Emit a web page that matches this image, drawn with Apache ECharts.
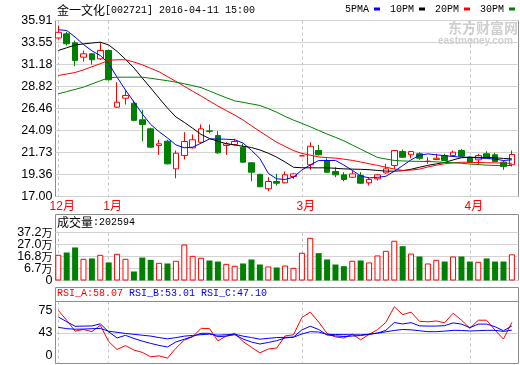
<!DOCTYPE html>
<html>
<head>
<meta charset="utf-8">
<title>金一文化 日K</title>
<script src="https://cdn.jsdelivr.net/npm/echarts@6/dist/echarts.min.js"></script>
<style>
  html, body { margin: 0; padding: 0; background: #fff; }
  #main { width: 520px; height: 365px; }
</style>
</head>
<body>
<div id="main"></div>
<script>
// month labels sit on these candle indexes
const monthIdx = [0, 6, 29, 49];
const monthNames = ['12月', '1月', '3月', '4月'];

const opens = [34.03, 34.48, 33.51, 31.97, 32.33, 31.79, 32.69, 26.60, 27.56, 27.02,
  25.24, 24.27, 22.48, 22.94, 19.97, 21.40, 22.23, 22.83, 24.05, 23.55,
  22.48, 22.58, 22.30, 20.62, 19.38, 17.83, 18.61, 18.47, 19.15, 21.37,
  20.41, 21.94, 20.87, 19.69, 19.33, 19.07, 19.26, 18.47, 18.90, 19.54,
  20.33, 21.83, 21.48, 21.59, 20.76, 20.98, 21.40, 21.40, 21.94, 21.22,
  20.94, 21.59, 21.48, 20.69, 20.41];
const closes = [34.64, 33.41, 31.61, 32.33, 31.69, 32.69, 29.54, 27.13, 27.85, 25.18,
  24.74, 22.30, 22.66, 20.51, 21.65, 22.91, 23.09, 24.27, 24.00, 21.69,
  22.66, 22.91, 20.69, 19.61, 18.05, 18.61, 18.43, 19.33, 19.43, 21.37,
  22.40, 21.48, 19.61, 19.33, 18.83, 19.43, 18.43, 18.83, 19.33, 19.97,
  21.94, 21.22, 21.83, 21.11, 20.80, 21.11, 20.87, 21.76, 21.33, 20.69,
  21.40, 21.22, 20.76, 20.23, 21.51];
const lows = [33.87, 33.22, 31.00, 31.50, 31.18, 31.69, 29.46, 26.53, 26.88, 25.09,
  22.94, 22.25, 21.48, 20.45, 18.96, 20.98, 22.15, 22.75, 23.80, 21.59,
  21.48, 22.48, 20.60, 18.64, 18.00, 17.57, 18.18, 18.40, 18.90, 21.37,
  19.87, 21.40, 19.55, 19.07, 18.64, 19.00, 18.36, 18.18, 18.72, 19.43,
  19.97, 21.15, 21.11, 20.95, 20.51, 20.90, 20.80, 21.30, 21.25, 20.60,
  20.41, 21.15, 20.70, 19.87, 20.22];
const highs = [35.37, 34.70, 33.76, 32.69, 32.40, 33.58, 32.80, 29.28, 28.39, 27.31,
  26.32, 24.38, 23.09, 23.09, 21.94, 23.91, 23.66, 24.74, 24.74, 24.02,
  22.83, 23.20, 22.66, 20.70, 19.45, 19.07, 19.43, 19.69, 19.50, 21.37,
  22.83, 22.55, 21.10, 20.15, 19.61, 19.79, 19.61, 19.07, 19.43, 20.51,
  21.94, 22.05, 21.90, 21.76, 21.22, 21.59, 21.59, 21.94, 22.12, 21.30,
  21.59, 21.87, 21.70, 20.87, 21.94];

const volumes = [199000, 217000, 256000, 168000, 171000, 199000, 140000, 207000, 168000, 70000,
  178000, 160000, 137000, 132000, 153000, 279000, 191000, 176000, 155000, 147000,
  129000, 114000, 132000, 163000, 124000, 109000, 101000, 116000, 98000, 215000,
  331000, 212000, 163000, 124000, 111000, 153000, 155000, 140000, 194000, 230000,
  308000, 266000, 209000, 186000, 132000, 160000, 147000, 186000, 186000, 147000,
  145000, 171000, 147000, 147000, 202594];

const ma5 = [34.91, 34.84, 34.13, 33.33, 32.65, 32.15, 31.29, 29.81, 28.44, 27.17,
  25.87, 24.74, 23.96, 23.29, 22.55, 22.23, 22.30, 22.73, 23.18, 23.18,
  23.15, 23.10, 22.74, 21.96, 21.08, 19.49, 18.90, 18.83, 19.08, 19.85,
  20.39, 20.87, 20.87, 20.87, 20.38, 19.81, 19.22, 18.99, 19.06, 19.17,
  19.71, 20.32, 20.94, 21.43, 21.58, 21.48, 21.39, 21.30, 21.22, 21.22,
  21.14, 21.08, 21.02, 20.87, 20.94];
const ma10 = [32.69, 32.98, 33.27, 33.40, 33.49, 33.58, 33.28, 32.59, 31.74, 30.82,
  29.73, 28.66, 27.57, 26.50, 25.55, 24.97, 24.33, 23.67, 23.23, 22.94,
  22.67, 22.53, 22.40, 22.26, 22.00, 21.65, 21.23, 20.71, 20.14, 20.09,
  20.08, 20.08, 20.08, 20.03, 19.97, 19.94, 19.92, 19.88, 19.80, 19.73,
  19.72, 19.77, 19.93, 20.14, 20.35, 20.50, 20.66, 20.93, 21.17, 21.20,
  21.21, 21.19, 21.15, 21.09, 21.04];
const ma20 = [30.00, 30.16, 30.32, 30.61, 30.94, 31.27, 31.63, 31.69, 31.69, 31.45,
  31.15, 30.77, 30.40, 29.88, 29.37, 28.84, 28.31, 27.79, 27.25, 26.72,
  26.23, 25.75, 25.21, 24.60, 23.99, 23.41, 22.83, 22.38, 21.93, 21.63,
  21.44, 21.25, 21.18, 21.12, 21.01, 20.88, 20.71, 20.52, 20.34, 20.15,
  19.95, 19.80, 19.84, 19.94, 20.17, 20.36, 20.52, 20.61, 20.68, 20.67,
  20.65, 20.63, 20.61, 20.59, 20.57];
const ma30 = [28.03, 28.27, 28.51, 28.75, 29.09, 29.43, 29.76, 29.82, 29.82, 29.82,
  29.82, 29.70, 29.57, 29.44, 29.29, 29.11, 28.92, 28.70, 28.33, 27.97,
  27.61, 27.28, 27.12, 26.95, 26.78, 26.44, 26.05, 25.61, 25.21, 24.86,
  24.49, 24.10, 23.71, 23.36, 22.98, 22.53, 22.09, 21.64, 21.20, 21.03,
  20.87, 20.82, 20.79, 20.77, 20.76, 20.72, 20.67, 20.62, 20.57, 20.49,
  20.43, 20.37, 20.33, 20.33, 20.33];

const rsiA = [75, 61, 45.7, 48, 45, 54, 31, 19.8, 25.3, 19,
  15.7, 9.4, 10.8, 7.5, 21.5, 33, 37.7, 49.7, 49.2, 32,
  38.8, 42.5, 31, 22.8, 15, 20.5, 21.8, 38.9, 40.5, 65,
  72.5, 58.5, 42.5, 37.5, 35.9, 41.5, 33.5, 41, 47.8, 58,
  80, 69, 72.5, 59.5, 58.9, 60, 57.5, 71, 61.3, 49.7,
  61.1, 61.1, 47, 34.5, 58.07];
const rsiB = [65.7, 59, 52.5, 52.8, 53, 56, 44.7, 36, 39.8, 35.3,
  31.6, 28.4, 25.5, 23.3, 30.4, 34.2, 38.2, 42.6, 42.6, 37.8,
  38.6, 40.7, 34.5, 30.3, 27.5, 29.7, 32.2, 36, 37.3, 47.4,
  52.6, 48, 40.2, 39, 38, 38.7, 39.5, 41.2, 43, 46.8,
  57.8, 55.8, 57.7, 53.1, 52.8, 52.8, 53.4, 57.3, 55.6, 50.6,
  55.6, 55.6, 51.9, 46.2, 53.01];
const rsiC = [51, 49.2, 48.4, 48.6, 49.1, 49.5, 45.5, 44, 42.4, 41.2,
  39.9, 38.7, 36.6, 34.8, 36.5, 38.6, 39.6, 40.7, 41.5, 40,
  40.6, 41.4, 38.6, 36.6, 34.3, 35.5, 36.6, 36.9, 37.1, 41.6,
  44.9, 44.4, 41.1, 40.9, 40.7, 40.5, 40.4, 41.3, 42.8, 44.7,
  46.7, 48, 47.5, 46.3, 44.9, 44.9, 45.7, 46.8, 46.7, 45.9,
  46.3, 46.8, 46.8, 45.3, 47.1];

const priceTicks = [17.00, 19.36, 21.73, 24.09, 26.46, 28.82, 31.18, 33.55, 35.91];
const volTickLabels = ['0', '6.7万', '16.8万', '27.0万', '37.2万'];
const volMax = 372000;
const rsiTicks = [0, 43, 75];
const rsiMax = 87.5;

const RED = '#ff0000', GREEN = '#008000', BLUE = '#0000ff';
const BORDER = '#8c8c8c';
const numFont = '"Liberation Sans", sans-serif';
const monoFont = '"Liberation Mono", "DejaVu Sans Mono", monospace';
const cjkFont = '"Noto Sans CJK SC", sans-serif';

const xMin = -0.333, xMax = 54.79;
const last = closes.length - 1;
const volStep = volMax / (volTickLabels.length - 1);
const volTickValues = volTickLabels.map((_, i) => i * volStep);
// volume labels are split over two axes so the tight spacing does not hide any
const volEven = volTickValues.filter((_, i) => i % 2 === 0);
const volOdd = volTickValues.filter((_, i) => i % 2 === 1);

const pair = arr => arr.map((v, i) => [i, v]);

function xAxisFor(g, withLabels) {
  return {
    type: 'value', gridIndex: g, min: xMin, max: xMax,
    axisLine: { show: false },
    axisTick: { show: false, customValues: monthIdx },
    axisLabel: withLabels ? {
      customValues: monthIdx,
      formatter: v => monthNames[monthIdx.indexOf(v)],
      color: RED, fontSize: 12, fontFamily: numFont + ', ' + cjkFont,
      margin: 4, padding: [0, 0, 0, 8], showMinLabel: true, showMaxLabel: true
    } : { show: false },
    splitLine: { show: true, lineStyle: { color: '#c4c4c4', type: [3, 3], width: 1 } }
  };
}

const axisText = {
  color: '#000', fontSize: 12.5, fontFamily: numFont, margin: 3,
  hideOverlap: false, showMinLabel: true, showMaxLabel: true
};

function volAxis(labelValues, withSplit) {
  return {
    type: 'value', gridIndex: 1, min: 0, max: volMax, position: 'left', offset: 0,
    axisLine: { show: false },
    axisTick: { show: false, customValues: volTickValues },
    axisLabel: Object.assign({
      customValues: labelValues,
      formatter: v => {
        const t = volTickLabels[Math.round(v / volStep)];
        return t.endsWith('万') ? '{n|' + t.slice(0, -1) + '}{w|万}' : '{n|' + t + '}';
      },
      rich: {
        n: { fontFamily: numFont, fontSize: 12.5, color: '#000' },
        w: { fontFamily: cjkFont, fontSize: 11, color: '#000' }
      }
    }, axisText),
    splitLine: { show: withSplit, lineStyle: { color: '#d2d2d2' } }
  };
}

const chart = echarts.init(document.getElementById('main'), null, { renderer: 'canvas' });

chart.setOption({
  animation: false,
  backgroundColor: '#fff',
  title: {
    text: '{c|金一文化}{a|[002721] 2016-04-11 15:00}',
    left: 57, top: 4, padding: 0,
    textStyle: {
      fontWeight: 'normal',
      rich: {
        c: { fontFamily: cjkFont, fontSize: 12, fontWeight: 'normal', color: '#000' },
        a: { fontFamily: monoFont, fontSize: 10, fontWeight: 'normal', color: '#000' }
      }
    }
  },
  legend: {
    data: ['5PMA', '10PM', '20PM', '30PM'],
    right: 5, top: 4, padding: 0,
    align: 'right', icon: 'rect', itemWidth: 6, itemHeight: 3, itemGap: 10,
    textStyle: { fontFamily: monoFont, fontSize: 10, color: '#000' }
  },
  grid: [
    { left: 55.5, width: 463, top: 20.5, height: 176, show: true, borderColor: BORDER, borderWidth: 1 },
    { left: 55.5, width: 463, top: 232.5, height: 48, show: true, borderColor: BORDER, borderWidth: 1 },
    { left: 55.5, width: 463, top: 301.5, height: 62, show: true, borderColor: BORDER, borderWidth: 1 }
  ],
  xAxis: [xAxisFor(0, true), xAxisFor(1, false), xAxisFor(2, false)],
  yAxis: [
    {
      type: 'value', gridIndex: 0, min: priceTicks[0], max: priceTicks[priceTicks.length - 1],
      axisLine: { show: false },
      axisTick: { show: false, customValues: priceTicks },
      axisLabel: Object.assign({ customValues: priceTicks, formatter: v => v.toFixed(2) }, axisText),
      splitLine: { lineStyle: { color: '#d2d2d2' } }
    },
    volAxis(volEven, true),
    {
      type: 'value', gridIndex: 2, min: 0, max: rsiMax,
      axisLine: { show: false },
      axisTick: { show: false, customValues: [43] },
      axisLabel: Object.assign({
        customValues: rsiTicks,
        formatter: v => v === 0 ? '{low|0}' : '{n|' + v + '}',
        rich: {
          n: { fontFamily: numFont, fontSize: 12.5, color: '#000' },
          low: { fontFamily: numFont, fontSize: 12.5, color: '#000', padding: [0, 0, 16, 0] }
        }
      }, axisText),
      splitLine: { lineStyle: { color: '#d2d2d2' } }
    },
    volAxis(volOdd, false)
  ],
  graphic: [
    { type: 'rect', shape: { x: 55.5, y: 214.5, width: 463, height: 18 }, style: { fill: 'none', stroke: BORDER, lineWidth: 1 }, silent: true },
    { type: 'rect', shape: { x: 55.5, y: 287.5, width: 463, height: 14 }, style: { fill: 'none', stroke: BORDER, lineWidth: 1 }, silent: true },
    {
      type: 'text', left: 57, top: 216, silent: true,
      style: {
        text: '{c|成交量}{a|:' + volumes[last] + '}',
        rich: {
          c: { fontFamily: cjkFont, fontSize: 12, fill: '#000' },
          a: { fontFamily: monoFont, fontSize: 10, fill: '#000' }
        }
      }
    },
    {
      type: 'text', left: 57, top: 288, silent: true,
      style: {
        text: '{r|RSI_A:' + rsiA[last].toFixed(2) + '} {b|RSI_B:' + rsiB[last].toFixed(2) + '} {b|RSI_C:' + rsiC[last].toFixed(2) + '}',
        rich: {
          r: { fontFamily: monoFont, fontSize: 10, fill: RED },
          b: { fontFamily: monoFont, fontSize: 10, fill: BLUE }
        },
        fontFamily: monoFont, fontSize: 10
      }
    },
    {
      type: 'text', left: 448, top: 21, silent: true, z: -1,
      style: { text: '东方财富网', fontFamily: cjkFont, fontSize: 14, fontWeight: 'bold', fill: '#cfcfcf' }
    },
    {
      type: 'text', left: 438, top: 36, silent: true, z: -1,
      style: { text: 'eastmoney.com', fontFamily: '"Liberation Sans", sans-serif', fontSize: 10, fontWeight: 'bold', fill: '#cfcfcf' }
    }
  ],
  series: [
    {
      type: 'candlestick', xAxisIndex: 0, yAxisIndex: 0, z: 2,
      data: opens.map((o, i) => [i, o, closes[i], lows[i], highs[i]]),
      encode: { x: 0, y: [1, 2, 3, 4] },
      barWidth: 6,
      itemStyle: { color: '#fff', color0: GREEN, borderColor: RED, borderColor0: GREEN, borderWidth: 1 }
    },
    { name: '5PMA', type: 'line', xAxisIndex: 0, yAxisIndex: 0, z: 3, data: pair(ma5), showSymbol: false, color: BLUE, lineStyle: { width: 1 } },
    { name: '10PM', type: 'line', xAxisIndex: 0, yAxisIndex: 0, z: 3, data: pair(ma10), showSymbol: false, color: '#000', lineStyle: { width: 1 } },
    { name: '20PM', type: 'line', xAxisIndex: 0, yAxisIndex: 0, z: 3, data: pair(ma20), showSymbol: false, color: RED, lineStyle: { width: 1 } },
    { name: '30PM', type: 'line', xAxisIndex: 0, yAxisIndex: 0, z: 3, data: pair(ma30), showSymbol: false, color: GREEN, lineStyle: { width: 1 } },
    {
      type: 'bar', xAxisIndex: 1, yAxisIndex: 1, barWidth: 6,
      data: volumes.map((v, i) => ({
        value: [i, v],
        itemStyle: closes[i] >= opens[i]
          ? { color: '#fff', borderColor: RED, borderWidth: 1 }
          : { color: GREEN }
      }))
    },
    { name: 'RSI_A', type: 'line', xAxisIndex: 2, yAxisIndex: 2, data: pair(rsiA), showSymbol: false, color: RED, lineStyle: { width: 1 } },
    { name: 'RSI_B', type: 'line', xAxisIndex: 2, yAxisIndex: 2, data: pair(rsiB), showSymbol: false, color: BLUE, lineStyle: { width: 1 } },
    { name: 'RSI_C', type: 'line', xAxisIndex: 2, yAxisIndex: 2, data: pair(rsiC), showSymbol: false, color: BLUE, lineStyle: { width: 1 } }
  ]
});
</script>
</body>
</html>
